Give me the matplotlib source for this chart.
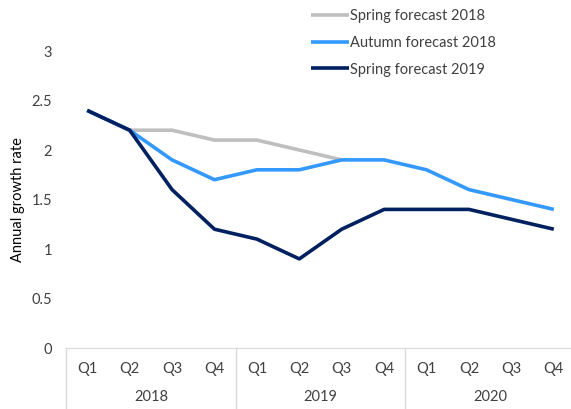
import matplotlib
matplotlib.use('Agg')
import matplotlib.pyplot as plt

quarters = ['Q1', 'Q2', 'Q3', 'Q4'] * 3
years = ['2018', '2019', '2020']

spring_2018 = [2.4, 2.2, 2.2, 2.1, 2.1, 2.0, 1.9]
autumn_2018 = [2.4, 2.2, 1.9, 1.7, 1.8, 1.8, 1.9, 1.9, 1.8, 1.6, 1.5, 1.4]
spring_2019 = [2.4, 2.2, 1.6, 1.2, 1.1, 0.9, 1.2, 1.4, 1.4, 1.4, 1.3, 1.2]

plt.rcParams['font.family'] = ['Lato', 'DejaVu Sans']

fig = plt.figure(figsize=(5.71, 4.09), dpi=100)
ax = fig.add_axes([66 / 571, 1 - 348 / 409, 509 / 571, (348 - 51) / 409])

ax.plot(range(len(spring_2018)), spring_2018, color='#BFBFBF', lw=2.6,
        label='Spring forecast 2018', solid_capstyle='butt')
ax.plot(range(len(autumn_2018)), autumn_2018, color='#3399FF', lw=2.6,
        label='Autumn forecast 2018', solid_capstyle='butt')
ax.plot(range(len(spring_2019)), spring_2019, color='#002060', lw=2.6,
        label='Spring forecast 2019', solid_capstyle='butt')

ax.set_xlim(-0.5, len(quarters) - 0.5)
ax.set_ylim(0, 3)
ax.set_yticks([0, 0.5, 1, 1.5, 2, 2.5, 3])
ax.set_yticklabels(['0', '0.5', '1', '1.5', '2', '2.5', '3'])
ax.set_xticks(range(len(quarters)))
ax.set_xticklabels(quarters)
ax.tick_params(axis='both', length=0, labelsize=10.5, colors='#404040')
ax.tick_params(axis='x', pad=10)
ax.tick_params(axis='y', pad=10)

for s in ['top', 'right', 'left']:
    ax.spines[s].set_visible(False)
ax.spines['bottom'].set_color('#D9D9D9')

# year groups under the quarter labels
for i, yr in enumerate(years):
    ax.text(i * 4 + 1.5, -0.165, yr, transform=ax.get_xaxis_transform(),
            ha='center', va='center', fontsize=10.5, color='#404040')
for i in range(len(years) + 1):
    ax.plot([i * 4 - 0.5] * 2, [0, -0.21], transform=ax.get_xaxis_transform(),
            color='#D9D9D9', lw=1, clip_on=False)

ax.set_ylabel('Annual growth rate', fontsize=10.5, color='black')
ax.yaxis.set_label_coords(-0.08, 0.5)

ax.legend(loc='upper left', bbox_to_anchor=(0.455, 1.185), frameon=False,
          fontsize=10.5, handlelength=2.6, handletextpad=0.1, labelspacing=0.87,
          labelcolor='#404040')

fig.savefig('out.png', dpi=100)
